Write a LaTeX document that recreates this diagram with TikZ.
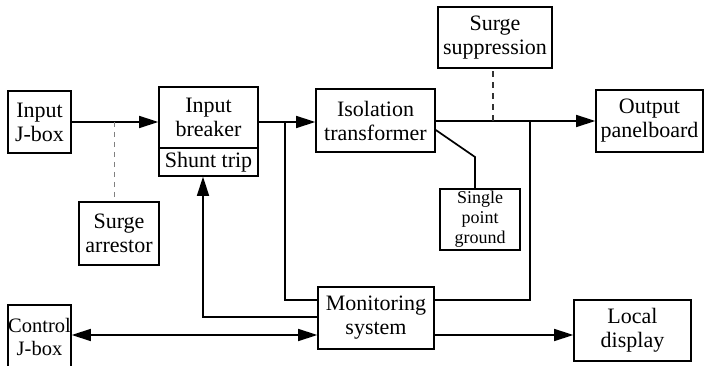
\documentclass[tikz,border=0pt]{standalone}
\usepackage{fontspec}
\setmainfont{Liberation Serif}
\usetikzlibrary{arrows.meta,calc}
\begin{document}
\begin{tikzpicture}[x=1pt,y=-1pt,
  blk/.style={draw,line width=1.6pt,inner sep=0pt,align=center,
    font=\fontsize{22}{24}\selectfont},
  wire/.style={line width=1.7pt},
  arr/.style={wire,-{Triangle[length=19pt,width=12pt]}},
  darr/.style={wire,{Triangle[length=19pt,width=12pt]}-{Triangle[length=19pt,width=12pt]}},
  thindash/.style={line width=1pt,gray,dash pattern=on 5pt off 5pt},
  darkdash/.style={line width=1.5pt,black!80,dash pattern=on 6pt off 5pt}]
\useasboundingbox (0,0) rectangle (705,366);
\clip (0,0) rectangle (705,366);
% boxes
\node[blk,minimum width=63pt,minimum height=62pt] (injbox) at (39.5,122) {Input\\J-box};
\node[blk,minimum width=99pt,minimum height=61pt] (breaker) at (208.5,117.5) {Input\\breaker};
\node[blk,minimum width=99pt,minimum height=28pt] (shunt) at (208.5,162) {Shunt trip};
\node[blk,minimum width=80pt,minimum height=63pt] (arrestor) at (119,233.5) {Surge\\arrestor};
\node[blk,minimum width=119pt,minimum height=63pt] (iso) at (375.5,120.5) {Isolation\\transformer};
\node[blk,minimum width=114pt,minimum height=61pt] (supp) at (495,37.5) {Surge\\suppression};
\node[blk,minimum width=107pt,minimum height=62pt] (output) at (649.5,121) {Output\\panelboard};
\node[blk,minimum width=80pt,minimum height=61pt,font=\fontsize{18}{20}\selectfont] (ground) at (480,219.5) {Single\\point\\ground};
\node[blk,minimum width=116pt,minimum height=62pt] (monitor) at (376,318) {Monitoring\\system};
\node[blk,minimum width=63pt,minimum height=64pt,font=\fontsize{20.5}{23}\selectfont] (control) at (39.5,337) {Control\\J-box};
\node[blk,minimum width=117pt,minimum height=61pt] (display) at (632.5,330.5) {Local\\display};
% helper coordinates
\coordinate (j1) at (114,122);
\coordinate (j2) at (285,122);
\coordinate (j3) at (493,121);
\coordinate (j4) at (530,121);
\coordinate (g1) at (475,157);
\coordinate (s1) at (203,317);
% power path
\draw[arr] (injbox.east |- j1) -- (breaker.west |- j1);
\draw[thindash] (j1) -- (j1 |- arrestor.north);
\draw[arr] (breaker.east |- j2) -- (iso.west |- j2);
\draw[arr] (iso.east |- j3) -- (output.west |- j3);
\draw[darkdash] (j3) -- (j3 |- supp.south);
\draw[wire] ($(iso.east)+(0,9.5)$) -- (g1) -- (g1 |- ground.north);
% monitoring taps
\draw[wire] (j2) -- (285,300) -- (monitor.west |- 0,300);
\draw[wire] (j4) -- (530,300) -- (monitor.east |- 0,300);
\draw[arr] (monitor.west |- s1) -- (s1) -- (s1 |- shunt.south);
% control and display
\draw[darr] (control.east |- 0,335) -- (monitor.west |- 0,335);
\draw[arr] (monitor.east |- 0,335) -- (display.west |- 0,335);
\end{tikzpicture}
\end{document}
